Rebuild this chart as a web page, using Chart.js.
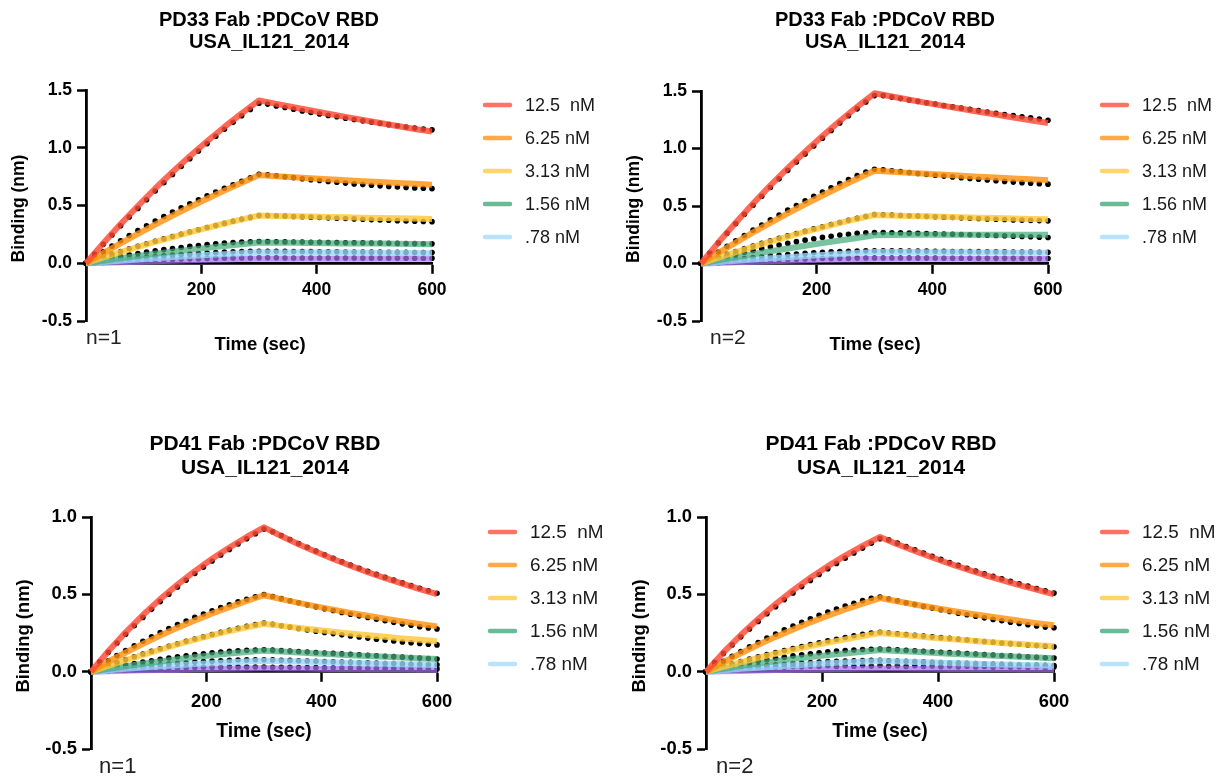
<!DOCTYPE html>
<html>
<head>
<meta charset="utf-8">
<script src="https://cdn.jsdelivr.net/npm/chart.js@4.4.1/dist/chart.umd.min.js"></script>
<style>
html,body{margin:0;padding:0;background:#fff;width:1225px;height:776px;overflow:hidden}
canvas{position:absolute;left:0;top:0}
</style>
</head>
<body>
<canvas id="c1" width="1225" height="776"></canvas>
<canvas id="c2" width="1225" height="776"></canvas>
<canvas id="c3" width="1225" height="776"></canvas>
<canvas id="c4" width="1225" height="776"></canvas>
<script>
// ---------------- DATA ----------------
const seriesLabels = ['12.5  nM', '6.25 nM', '3.13 nM', '1.56 nM', '.78 nM', ''];
const fitTime = [0,30,60,90,120,150,180,210,240,270,300,330,360,390,420,450,480,510,540,570,600];
const dotTime = [0,15,30,45,60,75,90,105,120,135,150,165,180,195,210,225,240,255,270,285,300,315,330,345,360,375,390,405,420,435,450,465,480,495,510,525,540,555,570,585,600];
const xTickValues = [200, 400, 600];
const yTicksTop = [-0.5, 0, 0.5, 1.0, 1.5];
const yTicksBottom = [-0.5, 0, 0.5, 1.0];
const titlesTop = ['PD33 Fab :PDCoV RBD', 'USA_IL121_2014'];
const titlesBottom = ['PD41 Fab :PDCoV RBD', 'USA_IL121_2014'];
const nLabels = ['n=1', 'n=2', 'n=1', 'n=2'];
const xAxisTitle = 'Time (sec)';
const yAxisTitle = 'Binding (nm)';

// Panel 1 (PD33, n=1) fitted curves
const p1FitRed    = [0,0.173,0.339,0.496,0.647,0.79,0.926,1.056,1.18,1.298,1.41,1.38,1.351,1.322,1.294,1.267,1.24,1.214,1.188,1.163,1.14];
const p1FitOrange = [0,0.088,0.172,0.255,0.335,0.412,0.487,0.559,0.629,0.697,0.763,0.754,0.745,0.736,0.727,0.719,0.711,0.703,0.695,0.688,0.68];
const p1FitYellow = [0,0.05,0.097,0.142,0.185,0.227,0.268,0.307,0.344,0.38,0.413,0.41,0.407,0.404,0.401,0.398,0.395,0.392,0.39,0.387,0.384];
const p1FitGreen  = [0,0.022,0.043,0.063,0.082,0.1,0.117,0.133,0.149,0.165,0.18,0.178,0.177,0.175,0.174,0.172,0.171,0.17,0.168,0.167,0.165];
const p1FitBlue   = [0,0.011,0.022,0.033,0.043,0.053,0.062,0.071,0.079,0.087,0.095,0.094,0.094,0.093,0.092,0.092,0.091,0.09,0.089,0.088,0.087];
const p1FitPurple = [0,0.005,0.009,0.014,0.018,0.022,0.026,0.03,0.033,0.037,0.04,0.04,0.04,0.04,0.04,0.04,0.04,0.04,0.04,0.04,0.04];
// Panel 1 measured points
const p1DotRed    = [0,0.08,0.165,0.245,0.325,0.4,0.475,0.55,0.625,0.697,0.768,0.838,0.905,0.972,1.036,1.099,1.16,1.22,1.277,1.332,1.385,1.378,1.362,1.348,1.334,1.319,1.306,1.293,1.28,1.268,1.256,1.244,1.233,1.222,1.211,1.2,1.19,1.18,1.17,1.162,1.155];
const p1DotOrange = [0,0.05,0.1,0.148,0.195,0.24,0.283,0.325,0.366,0.405,0.443,0.48,0.515,0.55,0.584,0.617,0.649,0.68,0.71,0.74,0.77,0.765,0.757,0.749,0.741,0.732,0.724,0.716,0.708,0.701,0.694,0.687,0.681,0.675,0.67,0.665,0.66,0.656,0.652,0.649,0.646];
const p1DotYellow = [0,0.027,0.053,0.078,0.102,0.125,0.147,0.169,0.19,0.211,0.231,0.251,0.271,0.29,0.309,0.327,0.345,0.363,0.38,0.397,0.414,0.413,0.411,0.408,0.405,0.402,0.399,0.396,0.393,0.39,0.387,0.384,0.381,0.378,0.375,0.372,0.369,0.366,0.364,0.362,0.36];
const p1DotGreen  = [0,0.016,0.032,0.046,0.06,0.073,0.085,0.097,0.108,0.118,0.128,0.137,0.146,0.154,0.161,0.168,0.174,0.179,0.183,0.186,0.188,0.187,0.186,0.185,0.184,0.183,0.182,0.181,0.18,0.179,0.178,0.177,0.176,0.175,0.174,0.173,0.172,0.171,0.17,0.169,0.168];
const p1DotBlue   = [0,0.008,0.016,0.024,0.031,0.038,0.045,0.052,0.058,0.064,0.07,0.075,0.08,0.085,0.089,0.093,0.096,0.099,0.101,0.103,0.104,0.104,0.103,0.103,0.102,0.102,0.101,0.1,0.1,0.099,0.098,0.098,0.097,0.096,0.096,0.095,0.094,0.094,0.093,0.092,0.092];
const p1DotPurple = [0,0.004,0.008,0.012,0.016,0.019,0.022,0.025,0.028,0.031,0.033,0.036,0.038,0.04,0.041,0.043,0.044,0.045,0.046,0.046,0.047,0.047,0.047,0.046,0.046,0.046,0.046,0.045,0.045,0.045,0.045,0.045,0.044,0.044,0.044,0.044,0.044,0.043,0.043,0.043,0.043];

// Panel 2 (PD33, n=2) fitted curves
const p2FitRed    = [0,0.182,0.355,0.521,0.679,0.829,0.972,1.108,1.239,1.363,1.48,1.452,1.424,1.397,1.371,1.345,1.32,1.295,1.27,1.246,1.222];
const p2FitOrange = [0,0.093,0.182,0.27,0.354,0.436,0.515,0.591,0.665,0.737,0.806,0.797,0.788,0.78,0.771,0.763,0.755,0.747,0.74,0.732,0.725];
const p2FitYellow = [0,0.05,0.098,0.145,0.19,0.233,0.275,0.315,0.353,0.388,0.422,0.418,0.414,0.41,0.406,0.402,0.398,0.395,0.391,0.388,0.385];
const p2FitGreen  = [0,0.028,0.055,0.081,0.107,0.131,0.155,0.178,0.2,0.222,0.245,0.248,0.249,0.25,0.25,0.25,0.25,0.25,0.25,0.25,0.25];
const p2FitBlue   = [0,0.012,0.023,0.034,0.045,0.055,0.065,0.074,0.083,0.092,0.1,0.1,0.099,0.098,0.098,0.097,0.096,0.095,0.094,0.094,0.093];
const p2FitPurple = [0,0.005,0.01,0.015,0.02,0.024,0.028,0.032,0.035,0.038,0.041,0.041,0.041,0.041,0.041,0.041,0.04,0.04,0.04,0.04,0.04];
// Panel 2 measured points
const p2DotRed    = [0,0.091,0.179,0.264,0.347,0.428,0.507,0.585,0.661,0.736,0.81,0.882,0.953,1.022,1.09,1.157,1.222,1.285,1.345,1.405,1.46,1.46,1.447,1.434,1.422,1.41,1.398,1.386,1.374,1.362,1.351,1.34,1.329,1.318,1.307,1.296,1.286,1.276,1.266,1.256,1.246];
const p2DotOrange = [0,0.05,0.1,0.149,0.197,0.244,0.29,0.335,0.379,0.422,0.464,0.505,0.545,0.584,0.622,0.659,0.695,0.73,0.764,0.796,0.82,0.815,0.807,0.799,0.791,0.783,0.775,0.767,0.76,0.753,0.746,0.739,0.732,0.726,0.72,0.714,0.708,0.703,0.698,0.694,0.69];
const p2DotYellow = [0,0.027,0.054,0.08,0.105,0.129,0.152,0.175,0.197,0.219,0.24,0.261,0.281,0.301,0.32,0.339,0.357,0.375,0.392,0.409,0.425,0.424,0.421,0.418,0.415,0.412,0.409,0.406,0.403,0.4,0.397,0.394,0.391,0.388,0.385,0.382,0.379,0.377,0.375,0.373,0.371];
const p2DotGreen  = [0,0.02,0.04,0.059,0.078,0.096,0.113,0.13,0.146,0.161,0.176,0.19,0.203,0.215,0.227,0.237,0.247,0.255,0.262,0.267,0.27,0.27,0.268,0.266,0.264,0.262,0.26,0.258,0.256,0.254,0.252,0.25,0.248,0.246,0.244,0.241,0.238,0.235,0.232,0.229,0.226];
const p2DotBlue   = [0,0.009,0.018,0.027,0.035,0.043,0.051,0.058,0.065,0.071,0.077,0.083,0.088,0.093,0.097,0.101,0.104,0.107,0.109,0.11,0.111,0.111,0.11,0.11,0.109,0.108,0.108,0.107,0.106,0.105,0.105,0.104,0.103,0.102,0.102,0.101,0.1,0.099,0.099,0.098,0.097];
const p2DotPurple = [0,0.004,0.008,0.012,0.016,0.02,0.023,0.026,0.029,0.032,0.035,0.037,0.039,0.041,0.043,0.044,0.045,0.046,0.047,0.048,0.048,0.048,0.048,0.048,0.047,0.047,0.047,0.047,0.046,0.046,0.046,0.046,0.046,0.045,0.045,0.045,0.045,0.045,0.044,0.044,0.044];

// Panel 3 (PD41, n=1) fitted curves
const p3FitRed    = [0,0.132,0.254,0.366,0.469,0.563,0.65,0.73,0.803,0.871,0.933,0.877,0.824,0.775,0.728,0.685,0.643,0.605,0.569,0.534,0.502];
const p3FitOrange = [0,0.064,0.124,0.18,0.234,0.284,0.331,0.376,0.417,0.457,0.494,0.469,0.445,0.422,0.401,0.38,0.361,0.343,0.325,0.309,0.293];
const p3FitYellow = [0,0.038,0.074,0.109,0.143,0.176,0.207,0.236,0.262,0.287,0.31,0.296,0.283,0.271,0.259,0.247,0.236,0.226,0.215,0.206,0.196];
const p3FitGreen  = [0,0.018,0.035,0.051,0.066,0.08,0.094,0.106,0.117,0.127,0.136,0.13,0.124,0.118,0.112,0.106,0.101,0.096,0.091,0.086,0.082];
const p3FitBlue   = [0,0.009,0.018,0.027,0.035,0.042,0.049,0.055,0.061,0.066,0.071,0.068,0.065,0.062,0.059,0.056,0.053,0.051,0.048,0.046,0.043];
const p3FitPurple = [0,0.003,0.006,0.009,0.011,0.013,0.015,0.017,0.019,0.021,0.022,0.021,0.02,0.019,0.018,0.017,0.016,0.016,0.015,0.014,0.013];
// Panel 3 measured points
const p3DotRed    = [0,0.064,0.125,0.185,0.242,0.297,0.351,0.403,0.453,0.501,0.547,0.592,0.635,0.676,0.716,0.754,0.79,0.825,0.859,0.892,0.922,0.905,0.88,0.855,0.829,0.804,0.78,0.756,0.733,0.711,0.69,0.669,0.649,0.629,0.61,0.592,0.574,0.556,0.539,0.523,0.507];
const p3DotOrange = [0,0.035,0.07,0.104,0.136,0.167,0.197,0.226,0.253,0.279,0.304,0.328,0.351,0.373,0.394,0.414,0.433,0.451,0.468,0.484,0.499,0.486,0.472,0.458,0.445,0.432,0.419,0.407,0.395,0.383,0.372,0.361,0.35,0.339,0.329,0.319,0.309,0.3,0.291,0.283,0.276];
const p3DotYellow = [0,0.02,0.04,0.059,0.078,0.096,0.114,0.131,0.148,0.164,0.18,0.196,0.211,0.226,0.24,0.254,0.268,0.281,0.293,0.304,0.314,0.306,0.297,0.288,0.279,0.27,0.262,0.254,0.246,0.238,0.231,0.224,0.217,0.21,0.204,0.198,0.192,0.187,0.182,0.177,0.173];
const p3DotGreen  = [0,0.011,0.022,0.033,0.043,0.053,0.062,0.071,0.08,0.088,0.096,0.103,0.11,0.116,0.122,0.127,0.131,0.135,0.138,0.14,0.141,0.139,0.136,0.133,0.13,0.127,0.124,0.121,0.118,0.115,0.112,0.109,0.106,0.103,0.1,0.097,0.094,0.091,0.088,0.085,0.082];
const p3DotBlue   = [0,0.006,0.012,0.018,0.024,0.03,0.035,0.04,0.045,0.05,0.054,0.058,0.062,0.065,0.068,0.071,0.073,0.075,0.076,0.077,0.077,0.076,0.074,0.073,0.071,0.069,0.067,0.066,0.064,0.062,0.06,0.058,0.057,0.055,0.053,0.052,0.05,0.048,0.047,0.045,0.044];
const p3DotPurple = [0,0.003,0.006,0.009,0.012,0.014,0.017,0.019,0.021,0.023,0.024,0.026,0.027,0.028,0.029,0.029,0.03,0.03,0.03,0.03,0.03,0.029,0.029,0.028,0.027,0.027,0.026,0.025,0.025,0.024,0.023,0.023,0.022,0.021,0.021,0.02,0.02,0.019,0.019,0.018,0.018];

// Panel 4 (PD41, n=2) fitted curves
const p4FitRed    = [0,0.124,0.237,0.341,0.437,0.526,0.607,0.682,0.75,0.813,0.871,0.824,0.78,0.738,0.698,0.661,0.625,0.592,0.56,0.53,0.5];
const p4FitOrange = [0,0.061,0.119,0.174,0.225,0.273,0.319,0.362,0.402,0.44,0.476,0.455,0.434,0.415,0.396,0.378,0.361,0.345,0.329,0.314,0.3];
const p4FitYellow = [0,0.031,0.061,0.089,0.116,0.141,0.165,0.188,0.209,0.23,0.25,0.24,0.23,0.22,0.211,0.203,0.194,0.186,0.179,0.171,0.164];
const p4FitGreen  = [0,0.019,0.037,0.053,0.068,0.082,0.095,0.107,0.118,0.129,0.14,0.134,0.128,0.122,0.116,0.111,0.106,0.101,0.096,0.091,0.086];
const p4FitBlue   = [0,0.009,0.018,0.026,0.034,0.041,0.048,0.054,0.059,0.064,0.069,0.066,0.062,0.059,0.056,0.053,0.05,0.047,0.044,0.041,0.039];
const p4FitPurple = [0,0.003,0.005,0.008,0.01,0.012,0.014,0.016,0.018,0.019,0.02,0.02,0.019,0.019,0.018,0.018,0.017,0.017,0.016,0.016,0.015];
// Panel 4 measured points
const p4DotRed    = [0,0.06,0.118,0.173,0.225,0.276,0.325,0.374,0.42,0.466,0.509,0.55,0.59,0.628,0.665,0.7,0.734,0.767,0.799,0.83,0.86,0.852,0.831,0.809,0.788,0.767,0.746,0.726,0.706,0.687,0.669,0.651,0.633,0.616,0.6,0.584,0.568,0.553,0.538,0.523,0.508];
const p4DotOrange = [0,0.034,0.067,0.099,0.13,0.16,0.189,0.217,0.244,0.27,0.295,0.319,0.342,0.364,0.385,0.405,0.424,0.442,0.459,0.475,0.483,0.47,0.458,0.446,0.434,0.422,0.411,0.4,0.389,0.378,0.368,0.358,0.348,0.338,0.329,0.32,0.311,0.303,0.295,0.288,0.284];
const p4DotYellow = [0,0.017,0.034,0.05,0.066,0.081,0.096,0.11,0.124,0.137,0.15,0.163,0.175,0.187,0.199,0.21,0.221,0.232,0.242,0.25,0.255,0.25,0.245,0.24,0.235,0.23,0.225,0.22,0.215,0.21,0.205,0.2,0.195,0.19,0.185,0.181,0.177,0.173,0.169,0.165,0.161];
const p4DotGreen  = [0,0.012,0.024,0.035,0.046,0.057,0.067,0.077,0.086,0.094,0.102,0.109,0.116,0.122,0.128,0.133,0.137,0.14,0.143,0.145,0.146,0.144,0.141,0.138,0.135,0.132,0.129,0.126,0.123,0.12,0.117,0.114,0.111,0.108,0.105,0.102,0.099,0.096,0.093,0.09,0.088];
const p4DotBlue   = [0,0.006,0.012,0.018,0.024,0.029,0.034,0.039,0.044,0.048,0.052,0.056,0.059,0.062,0.065,0.067,0.069,0.071,0.072,0.073,0.073,0.071,0.069,0.067,0.065,0.063,0.061,0.059,0.057,0.056,0.054,0.052,0.051,0.049,0.048,0.046,0.045,0.043,0.042,0.041,0.04];
const p4DotPurple = [0,0.005,0.01,0.012,0.018,0.019,0.025,0.024,0.03,0.028,0.034,0.031,0.036,0.033,0.038,0.034,0.039,0.035,0.04,0.036,0.04,0.035,0.039,0.034,0.038,0.033,0.037,0.032,0.036,0.031,0.035,0.03,0.034,0.029,0.033,0.028,0.032,0.027,0.031,0.026,0.03];

// ---------------- STYLE / LAYOUT ----------------
const FONT = '"Liberation Sans", Arial, Helvetica, sans-serif';
const fitColors = ['rgba(255,72,50,0.82)','rgba(255,145,15,0.82)','rgba(255,200,55,0.82)','rgba(70,172,125,0.72)','rgba(150,215,250,0.8)','rgba(165,110,240,0.72)'];
const legendColors = ['rgba(255,90,70,0.85)','rgba(255,155,40,0.85)','rgba(255,205,80,0.85)','rgba(80,175,130,0.85)','rgba(175,225,252,0.9)'];

const panels = [
  { id:'c1', area:{l:86,r:432,t:90,b:321}, ymax:1.5, yTicks:yTicksTop, titles:titlesTop, n:nLabels[0],
    fits:[p1FitRed,p1FitOrange,p1FitYellow,p1FitGreen,p1FitBlue,p1FitPurple],
    dots:[p1DotRed,p1DotOrange,p1DotYellow,p1DotGreen,p1DotBlue,p1DotPurple],
    titleX:269, titleY:20, titleGap:22, yTitleX:19, xTitleX:260, xTitleY:345, nX:86, nY:338,
    legX:483, legY:105, legStep:33, fs:1.0, xPad:7 },
  { id:'c2', area:{l:701,r:1048,t:91,b:321}, ymax:1.5, yTicks:yTicksTop, titles:titlesTop, n:nLabels[1],
    fits:[p2FitRed,p2FitOrange,p2FitYellow,p2FitGreen,p2FitBlue,p2FitPurple],
    dots:[p2DotRed,p2DotOrange,p2DotYellow,p2DotGreen,p2DotBlue,p2DotPurple],
    titleX:885, titleY:20, titleGap:22, yTitleX:634, xTitleX:875, xTitleY:345, nX:710, nY:338,
    legX:1100, legY:105, legStep:33, fs:1.0, xPad:7 },
  { id:'c3', area:{l:91,r:437,t:517,b:749}, ymax:1.0, yTicks:yTicksBottom, titles:titlesBottom, n:nLabels[2],
    fits:[p3FitRed,p3FitOrange,p3FitYellow,p3FitGreen,p3FitBlue,p3FitPurple],
    dots:[p3DotRed,p3DotOrange,p3DotYellow,p3DotGreen,p3DotBlue,p3DotPurple],
    titleX:265, titleY:444, titleGap:24, yTitleX:24, xTitleX:264, xTitleY:732, nX:99, nY:767,
    legX:488, legY:532, legStep:33, fs:1.05, xPad:10 },
  { id:'c4', area:{l:706,r:1054,t:517,b:749}, ymax:1.0, yTicks:yTicksBottom, titles:titlesBottom, n:nLabels[3],
    fits:[p4FitRed,p4FitOrange,p4FitYellow,p4FitGreen,p4FitBlue,p4FitPurple],
    dots:[p4DotRed,p4DotOrange,p4DotYellow,p4DotGreen,p4DotBlue,p4DotPurple],
    titleX:881, titleY:444, titleGap:24, yTitleX:640, xTitleX:880, xTitleY:732, nX:716, nY:767,
    legX:1100, legY:532, legStep:33, fs:1.05, xPad:10 }
];

const Y_W = 60;

const decorPlugin = {
  id: 'decor',
  afterDraw(chart, args, opts) {
    const p = opts.panel;
    const ctx = chart.ctx;
    const ca = chart.chartArea;
    ctx.save();
    ctx.fillStyle = '#000';
    ctx.textAlign = 'center';
    ctx.textBaseline = 'middle';
    ctx.font = 'bold ' + (20 * p.fs) + 'px ' + FONT;
    p.titles.forEach((line, i) => ctx.fillText(line, p.titleX, p.titleY + i * p.titleGap));
    // y axis title
    ctx.save();
    ctx.translate(p.yTitleX, (ca.top + ca.bottom) / 2 + 3);
    ctx.rotate(-Math.PI / 2);
    ctx.font = 'bold ' + (17.5 * p.fs) + 'px ' + FONT;
    ctx.fillText(yAxisTitle, 0, 0);
    ctx.restore();
    // x axis title
    ctx.font = 'bold ' + (18.5 * p.fs) + 'px ' + FONT;
    ctx.fillText(xAxisTitle, p.xTitleX, p.xTitleY);
    // n label
    ctx.textAlign = 'left';
    ctx.font = (21 * p.fs) + 'px ' + FONT;
    ctx.fillStyle = '#222';
    ctx.fillText(p.n, p.nX, p.nY);
    // legend
    let row = 0;
    chart.data.datasets.forEach((ds, i) => {
      if (!ds.isFit || !ds.label) return;
      const y = p.legY + row * p.legStep;
      ctx.strokeStyle = legendColors[i];
      ctx.lineWidth = 4.5;
      ctx.lineCap = 'round';
      ctx.beginPath();
      ctx.moveTo(p.legX + 2, y);
      ctx.lineTo(p.legX + 27, y);
      ctx.stroke();
      ctx.fillStyle = '#1a1a1a';
      ctx.font = (18 * p.fs) + 'px ' + FONT;
      ctx.textAlign = 'left';
      ctx.fillText(ds.label, p.legX + 42, y + 1);
      row++;
    });
    ctx.restore();
  }
};

function buildChart(p) {
  const datasets = [];
  p.fits.forEach((arr, i) => {
    datasets.push({
      label: seriesLabels[i], isFit: true,
      data: fitTime.map((t, k) => ({ x: t, y: arr[k] })),
      borderColor: fitColors[i], backgroundColor: fitColors[i],
      borderWidth: 6, pointRadius: 0, tension: 0, fill: false,
      borderJoinStyle: 'round', borderCapStyle: 'butt', order: 0, clip: false
    });
  });
  p.dots.forEach((arr, i) => {
    datasets.push({
      label: '', isFit: false,
      data: dotTime.map((t, k) => ({ x: t, y: arr[k] })),
      showLine: false, pointRadius: 2.8, pointBackgroundColor: '#000',
      pointBorderWidth: 0, borderColor: '#000', order: 1, clip: false
    });
  });
  const tickFont = { family: FONT, size: 17.5 * p.fs, weight: 'bold' };
  const gridCommon = { display: true, drawOnChartArea: false, drawTicks: true, tickLength: 9, tickWidth: 2.5, tickColor: '#000' };
  const borderCommon = { display: true, color: '#000', width: 2.8 };
  return new Chart(document.getElementById(p.id), {
    type: 'line',
    data: { datasets },
    options: {
      responsive: false, animation: false, events: [],
      layout: { padding: { left: p.area.l - Y_W, top: p.area.t, right: 1225 - p.area.r, bottom: 776 - p.area.b } },
      plugins: { legend: { display: false }, title: { display: false }, tooltip: { enabled: false }, decor: { panel: p } },
      scales: {
        x: {
          type: 'linear', position: { y: 0 }, min: 0, max: 600,
          afterBuildTicks: s => { s.ticks = xTickValues.map(v => ({ value: v })); },
          grid: gridCommon, border: borderCommon,
          ticks: { color: '#000', font: tickFont, padding: p.xPad, maxRotation: 0, autoSkip: false }
        },
        y: {
          type: 'linear', min: -0.5, max: p.ymax,
          afterBuildTicks: s => { s.ticks = p.yTicks.map(v => ({ value: v })); },
          afterFit: s => { s.width = Y_W; },
          grid: gridCommon, border: borderCommon,
          ticks: { color: '#000', font: tickFont, padding: 5, autoSkip: false, callback: v => Number(v).toFixed(1) }
        }
      }
    },
    plugins: [decorPlugin]
  });
}

panels.forEach(buildChart);
</script>
</body>
</html>
